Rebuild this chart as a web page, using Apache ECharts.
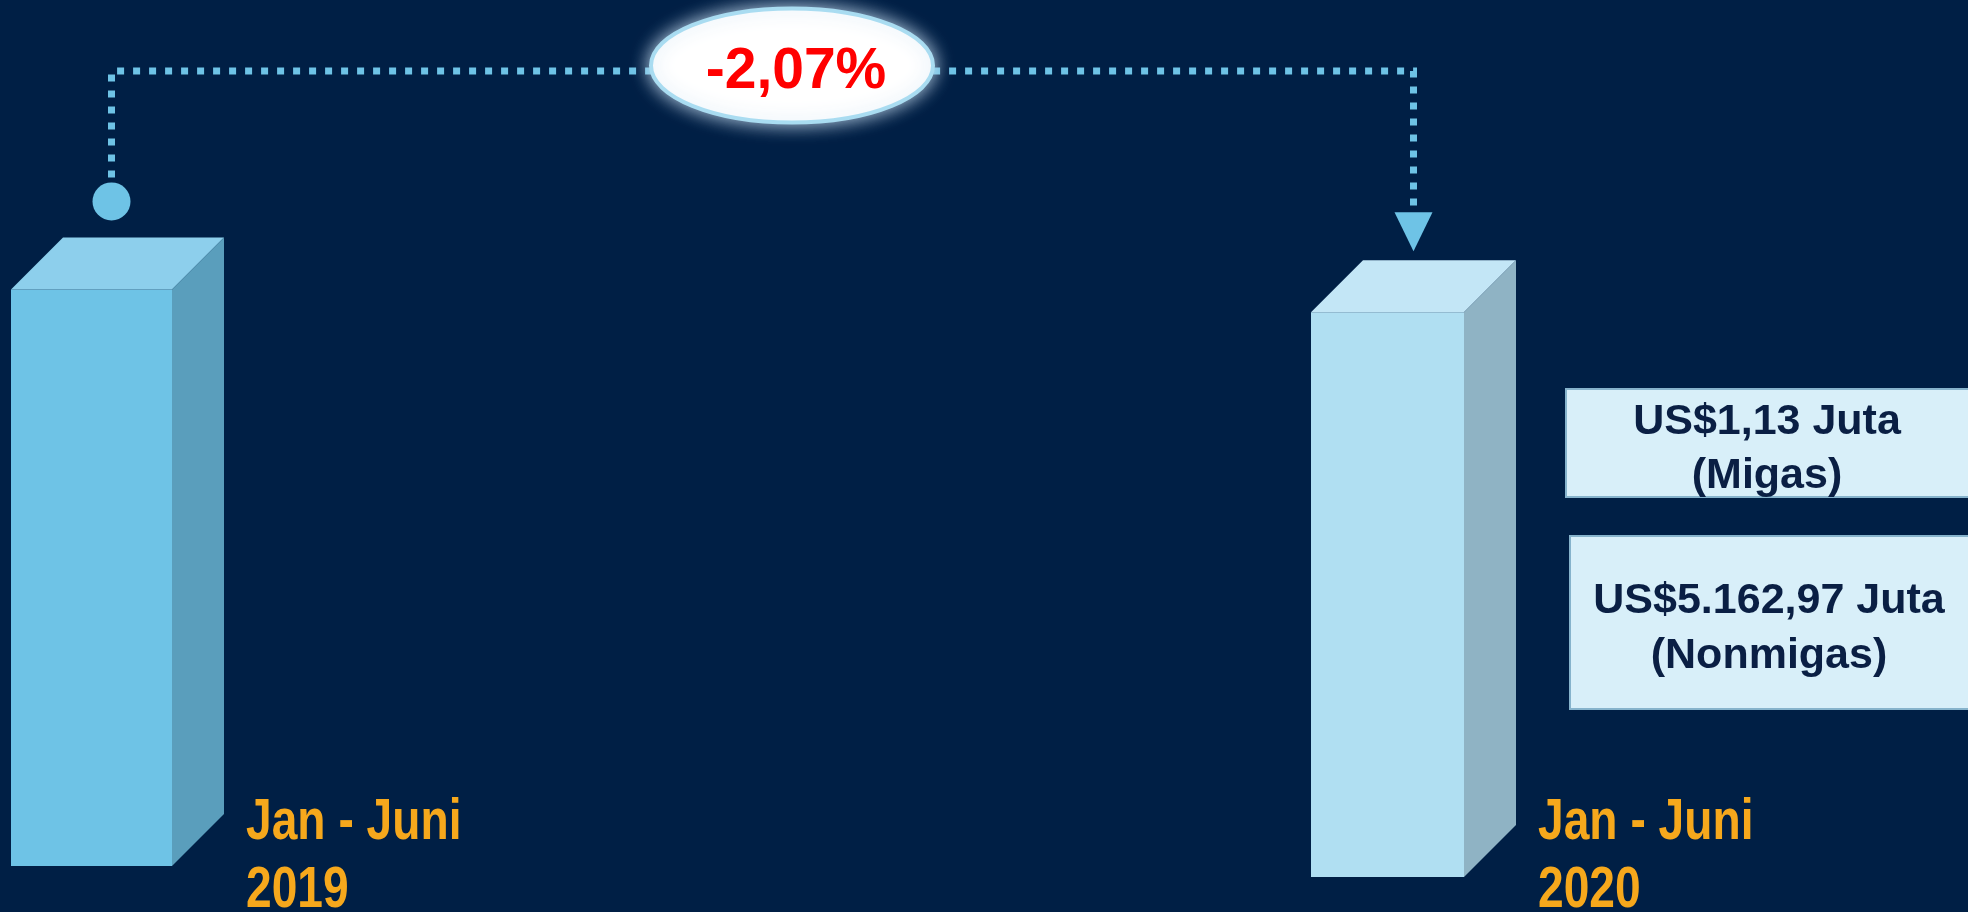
<!DOCTYPE html>
<html>
<head>
<meta charset="utf-8">
<script src="https://cdn.jsdelivr.net/npm/echarts@6/dist/echarts.min.js"></script>
<style>
  html, body { margin: 0; padding: 0; background: #001f45; }
  #chart { width: 1968px; height: 912px; }
</style>
</head>
<body>
<div id="chart"></div>
<script>
// ---- data ----
const categories = ['Jan - Juni\n2019', 'Jan - Juni\n2020'];
const totalValues = [5273.27, 5164.10];        // US$ juta
const changeText = '-2,07%';
const breakdownTexts = ['US$1,13 Juta\n(Migas)', 'US$5.162,97 Juta\n(Nonmigas)'];

// ---- style / layout constants ----
const BG = '#001f45';
const DEPTH = 52;
const Y_MAX = 7920;
const FONT = '"Liberation Sans", Arial, sans-serif';
const barColors = [
  { front: '#6ec3e6', top: '#8dcfec', side: '#5a9ebc' },
  { front: '#b0dff2', top: '#c3e6f6', side: '#8fb3c4' }
];
const LABEL_CENTER_Y = 857;
const LABEL_COLOR = '#f6a81c';

const chart = echarts.init(document.getElementById('chart'), null, { renderer: 'canvas' });

function renderBar(params, api) {
  const idx = params.seriesIndex;
  const c = barColors[idx];
  const top = api.coord([api.value(0), api.value(1)]);
  const base = api.coord([api.value(0), 0]);
  const w = api.size([1, 0])[0];
  const x0 = top[0] - w / 2, x1 = top[0] + w / 2;
  const yt = top[1], yb = base[1];
  const d = DEPTH;
  return {
    type: 'group',
    children: [
      { type: 'rect', shape: { x: x0, y: yt, width: w, height: yb - yt }, style: { fill: c.front } },
      { type: 'polygon', shape: { points: [[x0, yt], [x1, yt], [x1 + d, yt - d], [x0 + d, yt - d]] }, style: { fill: c.top } },
      { type: 'polygon', shape: { points: [[x1, yt], [x1 + d, yt - d], [x1 + d, yb - d], [x1, yb]] }, style: { fill: c.side } },
      {
        type: 'text', x: x1 + d + 22, y: LABEL_CENTER_Y, scaleX: 0.81,
        style: {
          text: categories[idx], x: 0, y: 0,
          font: 'bold 57px ' + FONT, fill: LABEL_COLOR,
          align: 'left', verticalAlign: 'middle', lineHeight: 68
        }
      }
    ]
  };
}

const option = {
  backgroundColor: BG,
  animation: false,
  grid: [
    { left: 11, width: 161, top: 0, height: 866 },
    { left: 1311, width: 153, top: 11, height: 866 }
  ],
  xAxis: [
    { type: 'category', gridIndex: 0, data: [categories[0]], show: false },
    { type: 'category', gridIndex: 1, data: [categories[1]], show: false }
  ],
  yAxis: [
    { type: 'value', gridIndex: 0, min: 0, max: Y_MAX, show: false },
    { type: 'value', gridIndex: 1, min: 0, max: Y_MAX, show: false }
  ],
  series: [
    { type: 'custom', xAxisIndex: 0, yAxisIndex: 0, renderItem: renderBar, data: [[0, totalValues[0]]], clip: false },
    { type: 'custom', xAxisIndex: 1, yAxisIndex: 1, renderItem: renderBar, data: [[0, totalValues[1]]], clip: false }
  ]
};
chart.setOption(option);

// connector computed from the bars' positions via the axes
const p1 = chart.convertToPixel({ gridIndex: 0 }, [0, totalValues[0]]);
const p2 = chart.convertToPixel({ gridIndex: 1 }, [0, totalValues[1]]);
const dotX = p1[0] + 20, dotY = p1[1] - DEPTH - 36;
const arrowX = p2[0] + DEPTH / 2, arrowTip = p2[1] - DEPTH - 9;
const LINE_Y = 71;
const LINE_COLOR = '#6ec3e6';

chart.setOption({
  graphic: [
    {
      type: 'polyline', z: 10,
      shape: { points: [[dotX, dotY - 24], [dotX, LINE_Y], [arrowX, LINE_Y], [arrowX, arrowTip - 38]] },
      style: { stroke: LINE_COLOR, lineWidth: 7, lineDash: [7, 9], fill: null }
    },
    { type: 'circle', z: 10, shape: { cx: dotX, cy: dotY, r: 19 }, style: { fill: LINE_COLOR } },
    {
      type: 'polygon', z: 10,
      shape: { points: [[arrowX - 19, arrowTip - 39], [arrowX + 19, arrowTip - 39], [arrowX, arrowTip]] },
      style: { fill: LINE_COLOR }
    },
    {
      type: 'ellipse', z: 20,
      shape: { cx: 792, cy: 65.5, rx: 141, ry: 57 },
      style: { fill: '#ffffff', stroke: '#a9dcf1', lineWidth: 4, shadowBlur: 18, shadowColor: 'rgba(200,222,240,0.95)' }
    },
    {
      type: 'text', z: 21, x: 796, y: 72,
      style: { text: changeText, font: 'bold 57px ' + FONT, fill: '#ff0000', align: 'center', verticalAlign: 'middle' }
    },
    {
      type: 'rect', z: 10, shape: { x: 1566, y: 389, width: 410, height: 108 },
      style: { fill: '#d8eff9', stroke: '#86b3cc', lineWidth: 2 }
    },
    {
      type: 'text', z: 11, x: 1767, y: 449,
      style: { text: breakdownTexts[0], font: 'bold 43px ' + FONT, fill: '#0a1f44', align: 'center', verticalAlign: 'middle', lineHeight: 54 }
    },
    {
      type: 'rect', z: 10, shape: { x: 1570, y: 536, width: 410, height: 173 },
      style: { fill: '#d8eff9', stroke: '#86b3cc', lineWidth: 2 }
    },
    {
      type: 'text', z: 11, x: 1769, y: 629,
      style: { text: breakdownTexts[1], font: 'bold 43px ' + FONT, fill: '#0a1f44', align: 'center', verticalAlign: 'middle', lineHeight: 55 }
    }
  ]
});
</script>
</body>
</html>
